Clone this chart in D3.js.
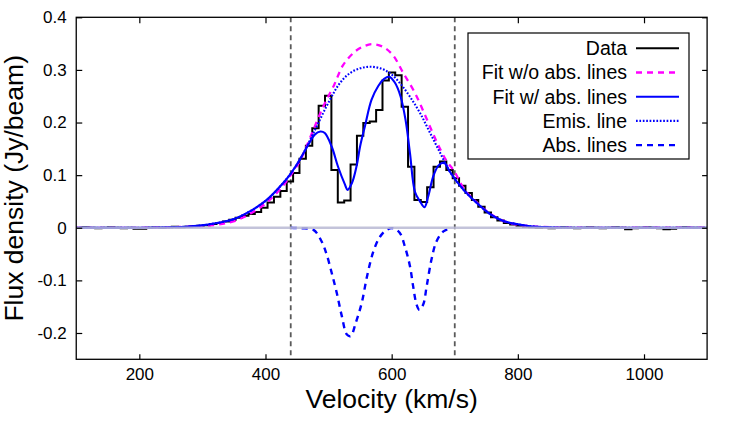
<!DOCTYPE html>
<html><head><meta charset="utf-8">
<script src="https://cdn.jsdelivr.net/npm/d3@7"></script>
<style>body{margin:0;background:#fff}svg{display:block}text{font-family:"Liberation Sans",Arial,sans-serif;fill:#000}</style>
</head><body><svg id="c" width="736" height="442"></svg>
<script>
// ---------- data ----------
const chanVel = [104.7,114.8,124.9,135.1,145.2,155.3,165.4,175.6,185.7,195.8,205.9,216.1,226.2,236.3,246.4,256.5,266.7,276.8,286.9,297.0,307.1,317.3,327.4,337.5,347.6,357.7,367.9,378.0,388.1,398.2,408.3,418.5,428.6,438.7,448.8,458.9,469.1,479.2,489.3,499.4,509.5,519.7,529.8,539.9,550.0,560.1,570.3,580.4,590.5,600.6,610.7,620.9,631.0,641.1,651.2,661.3,671.5,681.6,691.7,701.8,711.9,722.1,732.2,742.3,752.4,762.5,772.7,782.8,792.9,803.0,813.1,823.3,833.4,843.5,853.6,863.7,873.9,884.0,894.1,904.2,914.3,924.5,934.6,944.7,954.8,964.9,975.1,985.2,995.3,1005.4,1015.5,1025.7,1035.8,1045.9,1056.0,1066.1,1076.3,1086.4,1096.5];
const chanFlux = [0.000,0.001,0.000,-0.001,0.000,0.001,0.000,-0.001,0.000,-0.002,-0.002,0.000,0.001,0.000,0.001,0.002,0.001,0.002,0.003,0.004,0.005,0.007,0.009,0.012,0.015,0.019,0.023,0.026,0.030,0.038,0.048,0.059,0.070,0.088,0.104,0.131,0.156,0.189,0.232,0.251,0.110,0.048,0.052,0.120,0.175,0.199,0.202,0.224,0.280,0.295,0.290,0.230,0.116,0.053,0.049,0.077,0.116,0.126,0.110,0.094,0.080,0.066,0.053,0.040,0.029,0.020,0.014,0.009,0.006,0.004,0.002,0.001,0.000,0.001,-0.001,0.000,0.001,0.000,-0.001,0.000,0.001,0.000,-0.001,0.000,0.001,0.000,-0.003,-0.001,0.000,0.001,0.000,-0.001,-0.003,-0.002,0.000,0.001,0.000,0.000,0.000];

const fitNoAbsVel  = [100,200,250,280,300,325,349,375,402,428,440,455,471,491,509,523,542,558,570,586,602,618,637,654,670,686,700,714,735,756,777,798,819,850,900,1000,1100];
const fitNoAbsFlux = [0,0,0.001,0.002,0.003,0.006,0.012,0.026,0.048,0.080,0.100,0.128,0.172,0.229,0.272,0.309,0.335,0.346,0.349,0.344,0.328,0.295,0.256,0.211,0.167,0.129,0.106,0.075,0.048,0.027,0.013,0.006,0.003,0.001,0,0,0];

const fitAbsVel  = [100,200,250,275,296,323,349,375,402,428,440,452,468,478,487,494,505,515,526,530,537,544.5,550,558,568,579,588,596,605,614,622,629,637,645,652,658,666,674,680,685,692,714,735,756,777,798,819,850,900,1000,1100];
const fitAbsFlux = [0,0,0.001,0.002,0.004,0.009,0.016,0.031,0.053,0.085,0.103,0.125,0.158,0.177,0.183,0.180,0.154,0.116,0.082,0.072,0.085,0.118,0.155,0.195,0.243,0.270,0.283,0.287,0.276,0.250,0.205,0.142,0.068,0.050,0.039,0.060,0.098,0.118,0.123,0.122,0.107,0.072,0.047,0.026,0.013,0.007,0.003,0.001,0,0,0];

const emisVel  = [100,200,250,275,296,323,349,375,402,428,440,455,476,502,518,534,550,566,582,597,613,629,645,661,677,692,714,735,756,777,798,819,850,900,1000,1100];
const emisFlux = [0,0,0.001,0.002,0.004,0.009,0.016,0.031,0.053,0.085,0.103,0.130,0.180,0.243,0.275,0.294,0.303,0.306,0.303,0.294,0.275,0.249,0.218,0.180,0.142,0.107,0.072,0.047,0.026,0.013,0.007,0.003,0.001,0,0,0];

const absVel  = [440,455,476,489,497,505,513,521,529,535,543,552.5,561,571,581.5,592,602.5,613,621,629,634,639.5,644,650,655.5,663,671,682,695];
const absFlux = [0,-0.001,-0.004,-0.026,-0.051,-0.086,-0.124,-0.168,-0.203,-0.206,-0.181,-0.143,-0.092,-0.045,-0.017,-0.004,-0.001,-0.010,-0.036,-0.073,-0.111,-0.146,-0.156,-0.146,-0.111,-0.061,-0.026,-0.007,0];

const markerVel = [440,700];
const xTicks = [200,400,600,800,1000];
const yTicks = [-0.2,-0.1,0,0.1,0.2,0.3,0.4];
const yTickLabels = ["-0.2","-0.1","0","0.1","0.2","0.3","0.4"];
const legendLabels = ["Data","Fit w/o abs. lines","Fit w/ abs. lines","Emis. line","Abs. lines"];
const xTitle = "Velocity (km/s)";
const yTitle = "Flux density (Jy/beam)";

// ---------- layout ----------
const L = 76.24, R = 707.1, T = 17.3, B = 359.3;
const x = d3.scaleLinear().domain([100,1100]).range([L,R]);
const y = d3.scaleLinear().domain([-0.25,0.4]).range([B,T]);
const svg = d3.select("#c");

svg.append("defs").append("clipPath").attr("id","clip")
  .append("rect").attr("x",L).attr("y",T).attr("width",R-L).attr("height",B-T);
const plot = svg.append("g").attr("clip-path","url(#clip)");

const zip = (a,b) => a.map((v,i)=>[v,b[i]]);
const smooth = d3.line().x(d=>x(d[0])).y(d=>y(d[1])).curve(d3.curveCatmullRom.alpha(0.5));
const step = d3.line().x(d=>x(d[0])).y(d=>y(d[1])).curve(d3.curveStep);

// vertical markers
plot.selectAll("line.mk").data(markerVel).join("line").attr("class","mk")
  .attr("x1",d=>x(d)).attr("x2",d=>x(d)).attr("y1",T).attr("y2",B)
  .attr("stroke","#5a5a5a").attr("stroke-width",1.8).attr("stroke-dasharray","5,4");

// histogram
plot.append("path").attr("d",step(zip(chanVel,chanFlux)))
  .attr("fill","none").attr("stroke","#000").attr("stroke-width",2);

const styles = [
  {stroke:"#000", dash:null, w:2},
  {stroke:"#ff00ff", dash:"6,5", w:2.3},
  {stroke:"#0000ff", dash:null, w:2.1},
  {stroke:"#0000ff", dash:"1.7,1.7", w:2.1},
  {stroke:"#0000ff", dash:"6,5", w:2.4}
];

function curve(data, s){
  plot.append("path").attr("d",smooth(data)).attr("fill","none")
    .attr("stroke",s.stroke).attr("stroke-width",s.w)
    .attr("stroke-dasharray",s.dash).attr("stroke-linejoin","round");
}
curve(zip(fitNoAbsVel,fitNoAbsFlux), styles[1]);
curve(zip(fitAbsVel,fitAbsFlux), styles[2]);
curve(zip(emisVel,emisFlux), styles[3]);
curve(zip(absVel,absFlux), styles[4]);

// zero line
plot.append("line").attr("x1",L).attr("x2",R).attr("y1",y(0)).attr("y2",y(0))
  .attr("stroke","#b9b9d4").attr("stroke-opacity",0.85).attr("stroke-width",2.6);

// axes
const fs = "17px";
const gx = svg.append("g").attr("transform",`translate(0,${B})`)
  .call(d3.axisBottom(x).tickValues(xTicks).tickSize(-5).tickPadding(9).tickFormat(d3.format("d")));
const gxt = svg.append("g").attr("transform",`translate(0,${T})`)
  .call(d3.axisTop(x).tickValues(xTicks).tickSize(-6).tickFormat(""));
const gy = svg.append("g").attr("transform",`translate(${L},0)`)
  .call(d3.axisLeft(y).tickValues(yTicks).tickSize(-6).tickPadding(9.5).tickFormat((d,i)=>yTickLabels[i]));
const gyr = svg.append("g").attr("transform",`translate(${R},0)`)
  .call(d3.axisRight(y).tickValues(yTicks).tickSize(-5).tickFormat(""));
[gx,gxt,gy,gyr].forEach(g=>{
  g.select(".domain").remove();
  g.selectAll(".tick line").attr("stroke","#000").attr("stroke-width",1.2);
  g.selectAll("text").attr("font-size",fs).attr("font-family","Liberation Sans, Arial, sans-serif").attr("fill","#000");
});

// frame
svg.append("rect").attr("x",L).attr("y",T).attr("width",R-L).attr("height",B-T)
  .attr("fill","none").attr("stroke","#000").attr("stroke-width",1.3);

// titles
svg.append("text").attr("x",(L+R)/2).attr("y",408).attr("text-anchor","middle")
  .attr("font-size","26.5px").text(xTitle);
svg.append("text").attr("transform",`translate(23,${(T+B)/2}) rotate(-90)`).attr("text-anchor","middle")
  .attr("font-size","26.5px").text(yTitle);

// legend
const lg = svg.append("g");
lg.append("rect").attr("x",468).attr("y",33).attr("width",221).attr("height",126)
  .attr("fill","#fff").attr("stroke","#000").attr("stroke-width",1.2);
legendLabels.forEach((lab,i)=>{
  const cy = 48.3 + i*24.2;
  lg.append("text").attr("x",627).attr("y",cy).attr("dy","0.35em").attr("text-anchor","end")
    .attr("font-size","19.5px").text(lab);
  const s = styles[i];
  lg.append("line").attr("x1",636).attr("x2",679).attr("y1",cy).attr("y2",cy)
    .attr("stroke",s.stroke).attr("stroke-width",s.w).attr("stroke-dasharray",s.dash);
});
</script>
</body></html>
